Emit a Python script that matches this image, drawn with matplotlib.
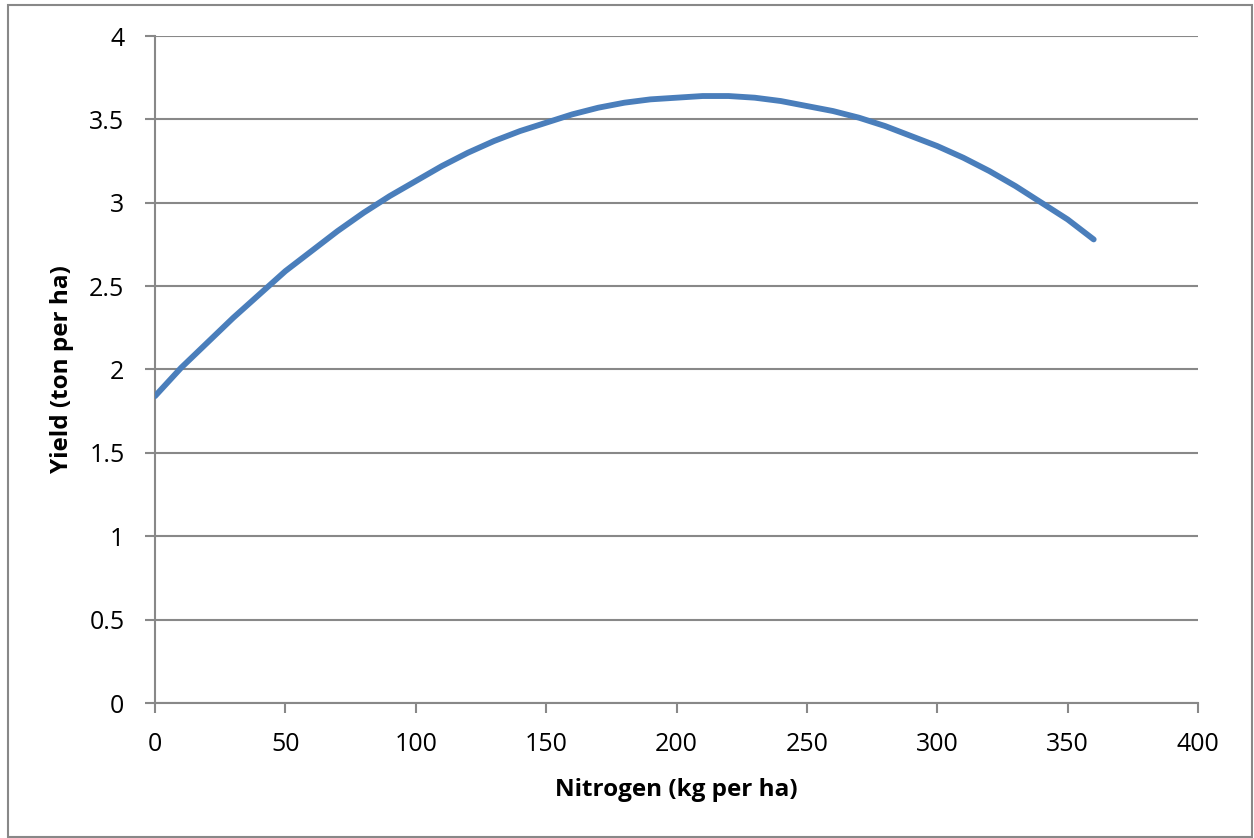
import matplotlib
matplotlib.use("Agg")
import matplotlib.pyplot as plt
from matplotlib.patches import Rectangle

# Nitrogen rate (kg per ha) and yield (ton per ha)
nitrogen = [0, 10, 20, 30, 40, 50, 60, 70, 80, 90, 100, 110, 120, 130,
            140, 150, 160, 170, 180, 190, 200, 210, 220, 230, 240, 250,
            260, 270, 280, 290, 300, 310, 320, 330, 340, 350, 360]
yield_t = [1.84, 2.01, 2.16, 2.31, 2.45, 2.59, 2.71, 2.83, 2.94, 3.04,
           3.13, 3.22, 3.30, 3.37, 3.43, 3.48, 3.53, 3.57, 3.60, 3.62,
           3.63, 3.64, 3.64, 3.63, 3.61, 3.58, 3.55, 3.51, 3.46, 3.40,
           3.34, 3.27, 3.19, 3.10, 3.00, 2.90, 2.78]

x_ticks = [0, 50, 100, 150, 200, 250, 300, 350, 400]
y_ticks = [0, 0.5, 1, 1.5, 2, 2.5, 3, 3.5, 4]
y_tick_labels = ["0", "0.5", "1", "1.5", "2", "2.5", "3", "3.5", "4"]

plt.rcParams["font.family"] = ["Open Sans", "DejaVu Sans"]
grey = "#888888"

W, H = 1254, 838
fig = plt.figure(figsize=(W / 100, H / 100), dpi=100)
ax = fig.add_axes([155 / W, 1 - 703 / H, (1198 - 155) / W, (703 - 36) / H])

ax.plot(nitrogen, yield_t, color="#4a7ebb", lw=4.2,
        solid_capstyle="round", solid_joinstyle="round", zorder=3)

ax.set_xlim(0, 400)
ax.set_ylim(0, 4)
ax.set_xticks(x_ticks)
ax.set_yticks(y_ticks)
ax.set_yticklabels(y_tick_labels)
ax.yaxis.grid(True, color=grey, lw=1.5)
ax.set_axisbelow(True)

for s in ["top", "right"]:
    ax.spines[s].set_visible(False)
for s in ["left", "bottom"]:
    ax.spines[s].set_color(grey)
    ax.spines[s].set_linewidth(1.5)

ax.tick_params(axis="both", direction="out", length=7, width=1.5,
               color=grey, labelsize=18, labelcolor="black")
ax.tick_params(axis="x", pad=14)
ax.tick_params(axis="y", pad=15)

ax.set_xlabel("Nitrogen (kg per ha)", fontsize=17.5, fontweight="bold", labelpad=15)
ax.set_ylabel("Yield (ton per ha)", fontsize=17.5, fontweight="bold", labelpad=11)

# chart-area border
fig.patches.append(Rectangle((8 / W, 1 / H), (1252 - 8) / W, (833 - 1) / H,
                             transform=fig.transFigure, fill=False,
                             edgecolor=grey, lw=1.5))

fig.savefig("out.png", dpi=100)
